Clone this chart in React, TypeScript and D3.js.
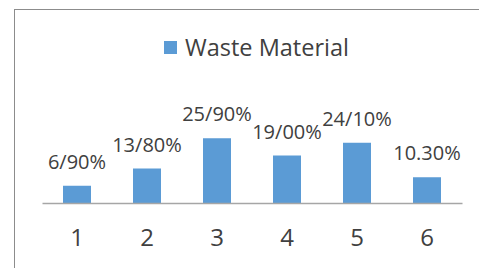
import React, { useRef, useEffect } from 'react';
import * as d3 from 'd3';

// chart data
const categories = ['1', '2', '3', '4', '5', '6'];
const wasteValues = [6.9, 13.8, 25.9, 19.0, 24.1, 10.3];
const valueLabels = ['6/90%', '13/80%', '25/90%', '19/00%', '24/10%', '10.30%'];
const seriesName = 'Waste Material';

const WIDTH = 479;
const HEIGHT = 268;
const FONT = "'Open Sans', 'DejaVu Sans', sans-serif";

const WasteChart = () => {
  const svgRef = useRef<SVGSVGElement>(null);

  useEffect(() => {
    const svg = d3.select(svgRef.current);
    svg.selectAll('*').remove();

    // chart frame (right and bottom edges fall outside the picture)
    svg.append('rect')
      .attr('x', 14.5)
      .attr('y', 9.5)
      .attr('width', WIDTH)
      .attr('height', HEIGHT)
      .attr('fill', '#fff')
      .attr('stroke', '#8c8c8c')
      .attr('stroke-width', 1);

    // scales
    const x = d3.scaleBand()
      .domain(categories)
      .range([42, 462])
      .paddingInner(0.6)
      .paddingOuter(0.3);

    const y = d3.scaleLinear()
      .domain([0, 30])
      .range([203, 128]);

    // bars
    svg.append('g')
      .selectAll('rect')
      .data(wasteValues)
      .join('rect')
      .attr('x', (d, i) => x(categories[i]))
      .attr('y', d => y(d))
      .attr('width', x.bandwidth())
      .attr('height', d => y(0) - y(d))
      .attr('fill', '#5b9bd5');

    // category axis
    const axis = svg.append('g')
      .attr('transform', `translate(0,${y(0)})`)
      .call(d3.axisBottom(x).tickSize(0).tickPadding(26));
    axis.select('.domain')
      .attr('stroke', '#a6a6a6')
      .attr('stroke-width', 1.3);
    axis.selectAll('text')
      .attr('fill', '#404040')
      .style('font-family', FONT)
      .style('font-size', '24px');

    // data labels
    svg.append('g')
      .selectAll('text')
      .data(wasteValues)
      .join('text')
      .attr('x', (d, i) => x(categories[i]) + x.bandwidth() / 2)
      .attr('y', d => y(d) - 17)
      .attr('text-anchor', 'middle')
      .attr('fill', '#404040')
      .style('font-family', FONT)
      .style('font-size', '20px')
      .text((d, i) => valueLabels[i]);

    // legend
    const legend = svg.append('g');
    legend.append('rect')
      .attr('x', 164)
      .attr('y', 41)
      .attr('width', 13)
      .attr('height', 13)
      .attr('fill', '#5b9bd5');
    legend.append('text')
      .attr('x', 185)
      .attr('y', 56)
      .attr('fill', '#404040')
      .style('font-family', FONT)
      .style('font-size', '23.5px')
      .text(seriesName);
  }, []);

  return (
    <svg
      ref={svgRef}
      width={WIDTH}
      height={HEIGHT}
      style={{ position: 'absolute', left: 0, top: 0, background: '#fff' }}
    />
  );
};

export default function App() {
  return <WasteChart />;
}
